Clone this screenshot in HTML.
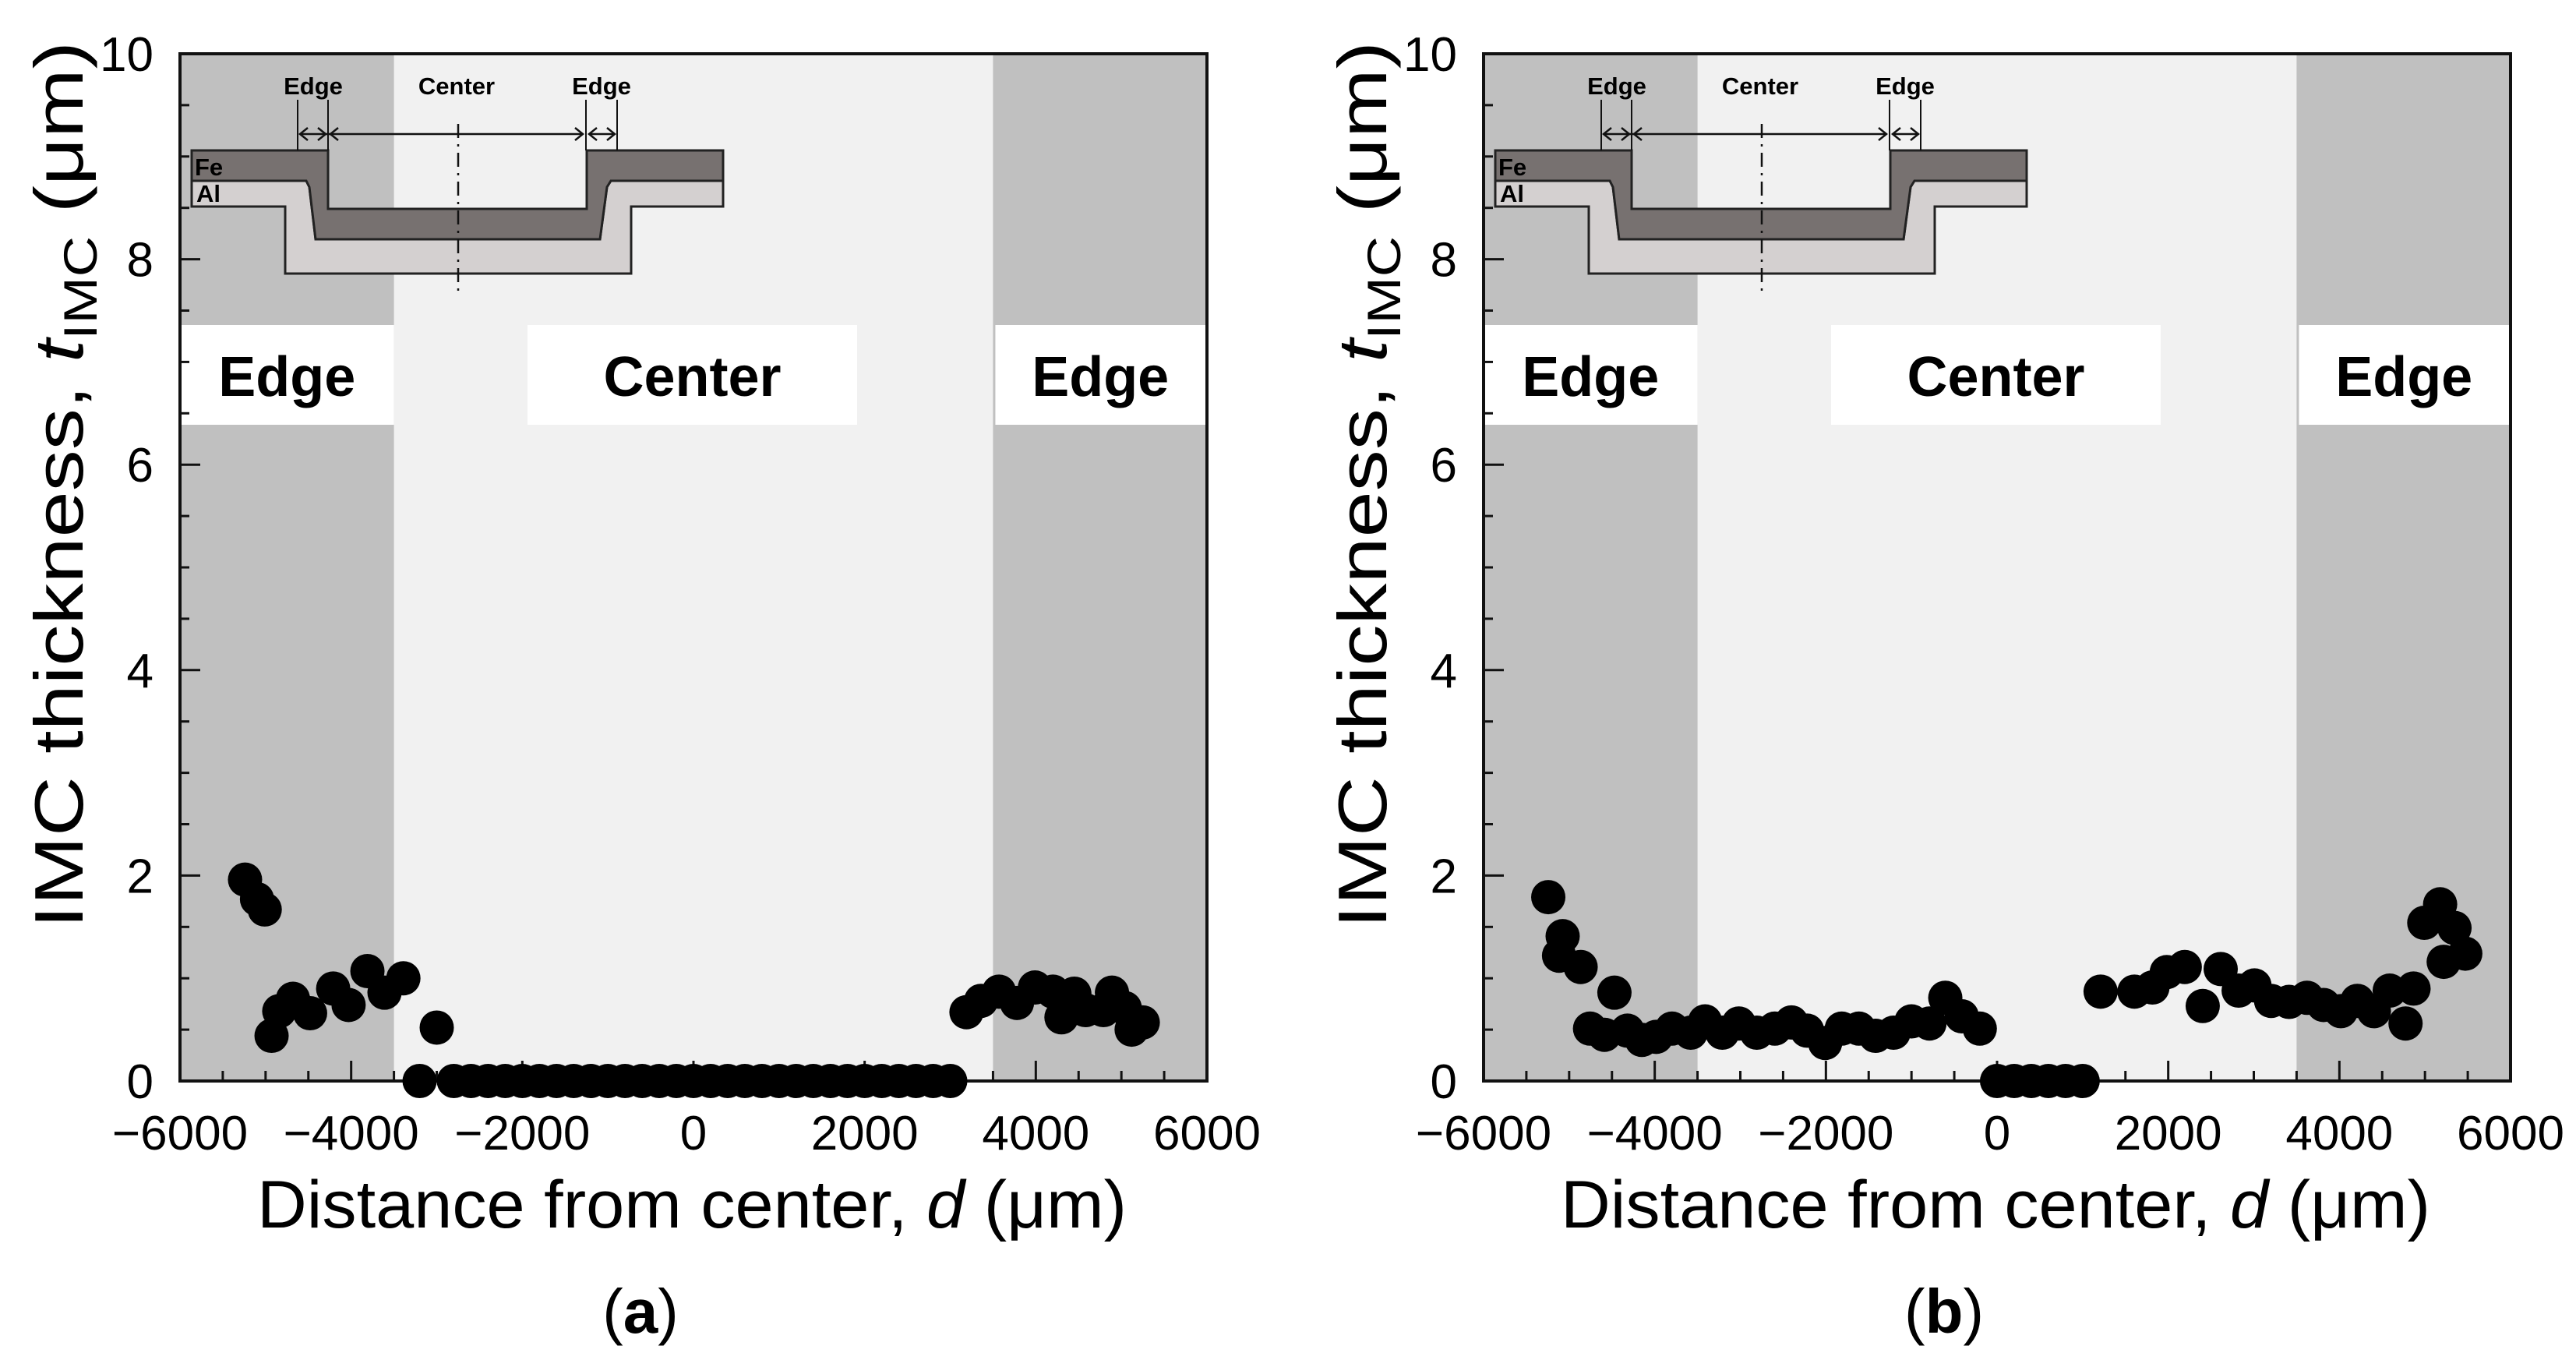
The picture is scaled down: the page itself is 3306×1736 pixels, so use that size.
<!DOCTYPE html>
<html><head><meta charset="utf-8"><style>
html,body{margin:0;padding:0;background:#fff}
svg{display:block}
text{font-family:"Liberation Sans",Arial,sans-serif}
</style></head><body>
<svg id="fig" width="3306" height="1736" viewBox="0 0 3306 1736" xmlns="http://www.w3.org/2000/svg"></svg>
<script>
// ---- data ----
const xTicks = [-6000,-4000,-2000,0,2000,4000,6000];
const yTicks = [0,2,4,6,8,10];
const aDist = [-5240,-5100,-5010,-4930,-4840,-4680,-4480,-4210,-4030,-3810,-3610,-3390,-3200,-3000,
 -2800,-2600,-2400,-2200,-2000,-1800,-1600,-1400,-1200,-1000,-800,-600,-400,-200,0,200,400,600,800,1000,1200,1400,1600,1800,2000,2200,2400,2600,2800,3000,
 3190,3360,3570,3780,3990,4200,4300,4450,4580,4790,4890,5040,5120,5250];
const aThick = [1.96,1.77,1.67,0.44,0.68,0.80,0.66,0.90,0.74,1.07,0.86,1.0,0,0.52,
 0,0,0,0,0,0,0,0,0,0,0,0,0,0,0,0,0,0,0,0,0,0,0,0,0,0,0,0,0,0,
 0.67,0.78,0.87,0.76,0.91,0.87,0.62,0.85,0.69,0.69,0.86,0.71,0.50,0.57];
const bDist = [-5244,-5076,-5118,-4866,-4471,-4756,-4588,-4319,-4151,-3983,-3798,-3580,-3412,-3210,-3017,-2807,-2597,-2403,-2219,-2009,-1815,-1614,-1420,-1210,-1000,-790,-605,-412,-202,
 0,200,400,600,800,1000,
 1210,1605,1815,1983,2193,2403,2613,2823,3008,3202,3412,3622,3815,4017,4210,4403,4588,4773,4866,4992,5177,5345,5219,5471];
const bThick = [1.79,1.41,1.22,1.11,0.86,0.51,0.45,0.49,0.40,0.43,0.51,0.47,0.58,0.47,0.56,0.47,0.51,0.57,0.49,0.37,0.51,0.51,0.44,0.47,0.58,0.56,0.81,0.63,0.51,
 0,0,0,0,0,0,
 0.87,0.87,0.91,1.06,1.11,0.73,1.09,0.88,0.93,0.78,0.77,0.81,0.74,0.68,0.78,0.68,0.88,0.56,0.90,1.54,1.72,1.49,1.16,1.24];

const NS="http://www.w3.org/2000/svg";
const svg=document.getElementById('fig');
function mk(tag,attrs,parent,txt){const e=document.createElementNS(NS,tag);for(const k in attrs)e.setAttribute(k,attrs[k]);if(txt!==undefined)e.textContent=txt;(parent||svg).appendChild(e);return e;}

function panel(ox,dist,thick,letter){
  const L=ox+231,R=ox+1549,T=69,B=1387;
  const xs=d=>L+(d+6000)/12000*(R-L);
  const ys=v=>B-v/10*(B-T);
  const g=mk('g',{});
  
  
  let r=mk('rect',{x:L,y:T,width:R-L,height:B-T,fill:'#f1f1f1'},g);
  
  r=mk('rect',{x:L,y:T,width:xs(-3500)-L,height:B-T,fill:'#c0c0c0'},g);
  
  r=mk('rect',{x:xs(3500),y:T,width:R-xs(3500),height:B-T,fill:'#c0c0c0'},g);
  
  const boxes=[[L,xs(-3500),'Edge','left-edge-label'],[ox+677,ox+1100,'Center','center-label'],[xs(3500)+3,R-2,'Edge','right-edge-label']];
  boxes.forEach(b=>{
    const bx=mk('rect',{x:b[0],y:417,width:b[1]-b[0],height:128,fill:'#fff'},g);
    
    const t=mk('text',{x:(b[0]+b[1])/2,y:508,'text-anchor':'middle','font-size':72,'font-weight':'bold'},g,b[2]);
    
  });
  const ig=mk('g',{transform:`translate(${ox},0)`},g);
  
  mk('path',{d:'M246,265 H366 V351 H810 V265 H928 V232 H784 L779,240 L770,307 H405 L397,240 L393,232 H246 Z',fill:'#d4d0d0',stroke:'#222','stroke-width':3},ig);
  mk('path',{d:'M246,193 H421 V268 H753 V193 H928 V232 H784 L779,240 L770,307 H405 L397,240 L393,232 H246 Z',fill:'#777170',stroke:'#222','stroke-width':3},ig);
  mk('line',{x1:588,y1:159,x2:588,y2:373,stroke:'#111','stroke-width':2.5,'stroke-dasharray':'18 8 3 8'},ig);
  [382,421,752,792].forEach(x=>mk('line',{x1:x,y1:128,x2:x,y2:193,stroke:'#111','stroke-width':2},ig));
  mk('line',{x1:385,y1:172,x2:748,y2:172,stroke:'#111','stroke-width':2.5},ig);
  mk('line',{x1:756,y1:172,x2:789,y2:172,stroke:'#111','stroke-width':2.5},ig);
  [[385,1],[418,-1],[424,1],[748,-1],[756,1],[789,-1]].forEach(a=>mk('path',{d:`M${a[0]+a[1]*10},164 L${a[0]},172 L${a[0]+a[1]*10},180`,fill:'none',stroke:'#111','stroke-width':2.5},ig));
  [[402,'Edge'],[586,'Center'],[772,'Edge']].forEach(l=>mk('text',{x:l[0],y:121,'text-anchor':'middle','font-size':31,'font-weight':'bold'},ig,l[1]));
  mk('text',{x:250,y:225,'font-size':31,'font-weight':'bold'},ig,'Fe');
  mk('text',{x:252,y:259,'font-size':31,'font-weight':'bold'},ig,'Al');
  const tg=mk('g',{stroke:'#111','stroke-width':3},g);
  for(let v=0;v<=10;v+=0.5){const y=ys(v);const len=(v%2===0)?26:12;mk('line',{x1:L,y1:y,x2:L+len,y2:y},tg);}
  for(let d=-6000;d<=6000;d+=500){const x=xs(d);const len=(d%2000===0)?26:13;mk('line',{x1:x,y1:B,x2:x,y2:B-len},tg);}
  const fr=mk('rect',{x:L,y:T,width:R-L,height:B-T,fill:'none',stroke:'#111','stroke-width':4},g);
  
  dist.forEach((d,i)=>{
    const c=mk('circle',{cx:xs(d),cy:ys(thick[i]),r:22,fill:'#000'},g);
    
    
  });
  xTicks.forEach(t=>{const e=mk('text',{x:xs(t),y:1475,'text-anchor':'middle','font-size':62},g,(t<0?'\u2212':'')+Math.abs(t));
    });
  yTicks.forEach(t=>{const e=mk('text',{x:L-34,y:ys(t)+22,'text-anchor':'end','font-size':62},g,String(t));
    });
  const xt=mk('text',{x:ox+330,y:1575,'font-size':86,textLength:1116,lengthAdjust:'spacingAndGlyphs'},g);
  
  mk('tspan',{},xt,'Distance from center, ');
  mk('tspan',{'font-style':'italic'},xt,'d');
  mk('tspan',{},xt,' (\u03bcm)');
  const yt=mk('text',{transform:`translate(${ox+106},622) rotate(-90)`,'text-anchor':'middle','font-size':88,textLength:1138,lengthAdjust:'spacingAndGlyphs'},g);
  
  mk('tspan',{},yt,'IMC thickness, ');
  mk('tspan',{'font-style':'italic'},yt,'t');
  mk('tspan',{'font-size':60,dy:18},yt,'IMC');
  mk('tspan',{dy:-18},yt,' (\u03bcm)');
  const cap=mk('text',{x:ox+822,y:1710,'text-anchor':'middle','font-size':80,'font-family':'"Liberation Serif",serif'},g);
  
  mk('tspan',{},cap,'(');mk('tspan',{'font-weight':'bold'},cap,letter);mk('tspan',{},cap,')');
}
panel(0,aDist,aThick,'a');
panel(1673,bDist,bThick,'b');
</script>
</body></html>
